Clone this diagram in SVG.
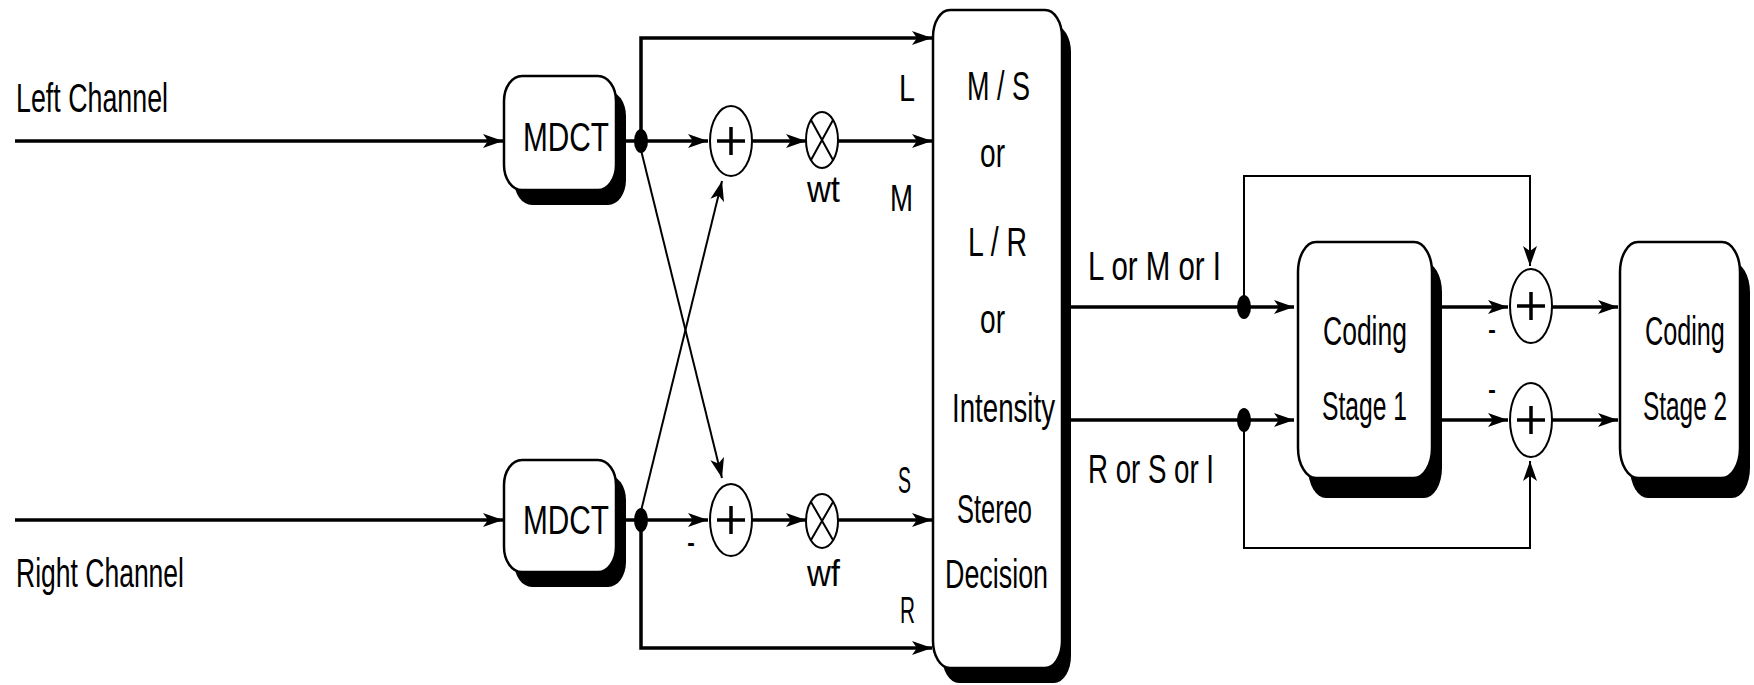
<svg xmlns="http://www.w3.org/2000/svg" width="1754" height="685" viewBox="0 0 1754 685">
<defs>
<style>
text{font-family:"Liberation Sans",Arial,sans-serif;fill:#000;}
.t{font-size:41px;}
.s{font-size:36px;}
.box{fill:#fff;stroke:#000;stroke-width:2.5;}
.sh{fill:#000;}
.thick{fill:none;stroke:#000;stroke-width:3.5;}
.thin{fill:none;stroke:#000;stroke-width:2;}
.circ{fill:#fff;stroke:#000;stroke-width:2;}
.dot{fill:#000;}
</style>
<marker id="arr" viewBox="0 0 20 16" refX="20" refY="8" markerWidth="20" markerHeight="16" markerUnits="userSpaceOnUse" orient="auto">
<path d="M0,1 L20,8 L0,15 L5,8 z" fill="#000"/>
</marker>
</defs>
<rect width="1754" height="685" fill="#fff"/>

<g id="connectors">
<path class="thick" d="M15,141 H503" marker-end="url(#arr)"/>
<path class="thick" d="M15,520 H503" marker-end="url(#arr)"/>
<path class="thick" d="M626,141 H708" marker-end="url(#arr)"/>
<path class="thick" d="M626,520 H708" marker-end="url(#arr)"/>
<path class="thick" d="M641,141 V38 H932" marker-end="url(#arr)"/>
<path class="thick" d="M641,520 V648 H932" marker-end="url(#arr)"/>
<path class="thin" d="M641,150 L722,478" marker-end="url(#arr)"/>
<path class="thin" d="M641,511 L722,181" marker-end="url(#arr)"/>
<path class="thick" d="M752,141 H806" marker-end="url(#arr)"/>
<path class="thick" d="M752,520 H806" marker-end="url(#arr)"/>
<path class="thick" d="M838,141 H932" marker-end="url(#arr)"/>
<path class="thick" d="M838,520 H932" marker-end="url(#arr)"/>
<path class="thick" d="M1071,307 H1294" marker-end="url(#arr)"/>
<path class="thick" d="M1071,420 H1294" marker-end="url(#arr)"/>
<path class="thin" d="M1244,307 V176 H1530 V266" marker-end="url(#arr)"/>
<path class="thin" d="M1244,420 V548 H1530 V461" marker-end="url(#arr)"/>
<path class="thick" d="M1442,307 H1508" marker-end="url(#arr)"/>
<path class="thick" d="M1442,420 H1508" marker-end="url(#arr)"/>
<path class="thick" d="M1552,307 H1618" marker-end="url(#arr)"/>
<path class="thick" d="M1552,420 H1618" marker-end="url(#arr)"/>
<ellipse class="dot" cx="641" cy="141" rx="7" ry="12"/>
<ellipse class="dot" cx="641" cy="520" rx="7" ry="12"/>
<ellipse class="dot" cx="1244" cy="307" rx="7" ry="12"/>
<ellipse class="dot" cx="1244" cy="420" rx="7" ry="12"/>
</g>

<g id="label-left">
<text class="t" x="16" y="112" textLength="152" lengthAdjust="spacingAndGlyphs">Left Channel</text>
</g>
<g id="label-right">
<text class="t" x="16" y="587" textLength="168" lengthAdjust="spacingAndGlyphs">Right Channel</text>
</g>

<g id="mdct-left">
<rect class="sh" x="514" y="91" width="112" height="114" rx="18" ry="25"/>
<rect class="box" x="504" y="76" width="112" height="114" rx="18" ry="25"/>
<text class="t" x="523" y="151" textLength="86" lengthAdjust="spacingAndGlyphs">MDCT</text>
</g>
<g id="mdct-right">
<rect class="sh" x="514" y="475" width="112" height="112" rx="18" ry="25"/>
<rect class="box" x="504" y="460" width="112" height="112" rx="18" ry="25"/>
<text class="t" x="523" y="534" textLength="86" lengthAdjust="spacingAndGlyphs">MDCT</text>
</g>

<g id="sum-top">
<ellipse class="circ" cx="731" cy="141" rx="21" ry="35"/>
<path class="thick" d="M731,127 V155 M717,141 H745" stroke-width="2.5"/>
</g>
<g id="sum-bottom">
<ellipse class="circ" cx="731" cy="520" rx="21" ry="36"/>
<path class="thick" d="M731,506 V534 M717,520 H745" stroke-width="2.5"/>
<text class="s" x="687" y="554" textLength="8" lengthAdjust="spacingAndGlyphs">-</text>
</g>

<g id="mult-top">
<ellipse class="circ" cx="822" cy="140" rx="16" ry="28"/>
<path class="thin" d="M811,120 L833,160 M833,120 L811,160"/>
<text class="s" x="807" y="202" textLength="33" lengthAdjust="spacingAndGlyphs">wt</text>
</g>
<g id="mult-bottom">
<ellipse class="circ" cx="822" cy="521" rx="16" ry="27"/>
<path class="thin" d="M811,502 L833,540 M833,502 L811,540"/>
<text class="s" x="807" y="586" textLength="33" lengthAdjust="spacingAndGlyphs">wf</text>
</g>

<g id="port-labels">
<text class="s" x="899" y="101" textLength="16" lengthAdjust="spacingAndGlyphs">L</text>
<text class="s" x="890" y="211" textLength="23" lengthAdjust="spacingAndGlyphs">M</text>
<text class="s" x="898" y="493" textLength="13" lengthAdjust="spacingAndGlyphs">S</text>
<text class="s" x="900" y="623" textLength="15" lengthAdjust="spacingAndGlyphs">R</text>
</g>

<g id="stereo-decision">
<rect class="sh" x="942" y="25" width="129" height="658" rx="17" ry="27"/>
<rect class="box" x="933" y="10" width="129" height="658" rx="17" ry="27"/>
<text class="t" x="967" y="100" textLength="63" lengthAdjust="spacingAndGlyphs">M / S</text>
<text class="t" x="980" y="167" textLength="25" lengthAdjust="spacingAndGlyphs">or</text>
<text class="t" x="968" y="256" textLength="59" lengthAdjust="spacingAndGlyphs">L / R</text>
<text class="t" x="980" y="333" textLength="25" lengthAdjust="spacingAndGlyphs">or</text>
<text class="t" x="952" y="422" textLength="103" lengthAdjust="spacingAndGlyphs">Intensity</text>
<text class="t" x="957" y="523" textLength="75" lengthAdjust="spacingAndGlyphs">Stereo</text>
<text class="t" x="945" y="588" textLength="103" lengthAdjust="spacingAndGlyphs">Decision</text>
</g>

<g id="out-labels">
<text class="t" x="1088" y="280" textLength="133" lengthAdjust="spacingAndGlyphs">L or M or I</text>
<text class="t" x="1088" y="483" textLength="126" lengthAdjust="spacingAndGlyphs">R or S or I</text>
</g>

<g id="coding-stage-1">
<rect class="sh" x="1308" y="262" width="134" height="236" rx="18" ry="30"/>
<rect class="box" x="1298" y="242" width="134" height="236" rx="18" ry="30"/>
<text class="t" x="1323" y="345" textLength="84" lengthAdjust="spacingAndGlyphs">Coding</text>
<text class="t" x="1322" y="420" textLength="85" lengthAdjust="spacingAndGlyphs">Stage 1</text>
</g>

<g id="sum-right-top">
<ellipse class="circ" cx="1531" cy="306" rx="21" ry="37"/>
<path class="thick" d="M1531,292 V320 M1517,306 H1545" stroke-width="2.5"/>
<text class="s" x="1488" y="341" textLength="8" lengthAdjust="spacingAndGlyphs">-</text>
</g>
<g id="sum-right-bottom">
<ellipse class="circ" cx="1531" cy="420" rx="21" ry="37"/>
<path class="thick" d="M1531,406 V434 M1517,420 H1545" stroke-width="2.5"/>
<text class="s" x="1488" y="401" textLength="8" lengthAdjust="spacingAndGlyphs">-</text>
</g>

<g id="coding-stage-2">
<rect class="sh" x="1630" y="262" width="120" height="236" rx="18" ry="30"/>
<rect class="box" x="1620" y="242" width="120" height="236" rx="18" ry="30"/>
<text class="t" transform="translate(1645,345) scale(0.615,1)">Coding</text>
<text class="t" transform="translate(1643,420) scale(0.595,1)">Stage 2</text>
</g>
</svg>
